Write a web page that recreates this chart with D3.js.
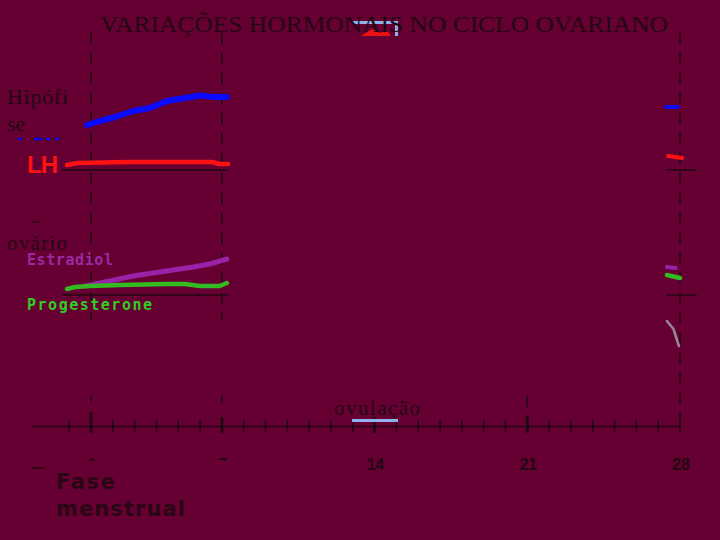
<!DOCTYPE html>
<html><head><meta charset="utf-8">
<script src="https://cdn.jsdelivr.net/npm/d3@7"></script>
<style>html,body{margin:0;padding:0;background:#660033;}</style>
</head><body>
<script>
// ---- data ----
const tickDays = d3.range(0, 29);
const majorDays = [1, 7, 14, 21];
const tickLabels = ["1", "7", "14", "21", "28"];
const labelDays = [1, 7, 14, 21, 28];

// pituitary panel (relative level 0-100)
const fshDays = [0.82, 1.41, 2.10, 2.93, 3.70, 4.48, 5.31, 6.0, 6.68, 7.23];
const fshVals = [45, 49, 53, 59, 62, 69, 72, 74.5, 73, 73];
const lhDays = [-0.1, 0.4, 2.7, 6.55, 6.9, 7.28];
const lhVals = [5, 7, 8, 8, 6, 6];
// ovary panel
const e2Days = [0.72, 1.87, 2.93, 3.84, 4.76, 5.68, 6.45, 7.23];
const e2Vals = [9, 14, 19, 22, 25, 28, 31, 36];
const progDays = [-0.1, 0.27, 0.95, 2.33, 4.48, 5.3, 6.0, 6.9, 7.23];
const progVals = [6, 8, 9, 10, 11, 11, 9, 9, 12];
// fragments at day 28
const fshEndDays = [27.36, 27.9], fshEndVals = [63, 63];
const lhEndDays = [27.45, 28.1], lhEndVals = [14, 12];
const e2EndDays = [27.4, 27.8], e2EndVals = [28, 27];
const progEndDays = [27.4, 28.0], progEndVals = [20, 17];
const greyDays = [27.4, 27.7, 27.95], greyVals = [-26, -34, -51];

const W = 720, H = 540;
const svg = d3.select("body").append("svg").attr("width", W).attr("height", H)
  .style("display", "block");
svg.append("rect").attr("width", W).attr("height", H).attr("fill", "#660033");

const x = d3.scaleLinear().domain([1, 28]).range([91, 680]);
const yPit = d3.scaleLinear().domain([0, 100]).range([170, 70]);
const yOva = d3.scaleLinear().domain([0, 100]).range([295, 195]);
const axisY = 426.5;
const ink = "#220712";

const zip = (a, b) => a.map((d, i) => [d, b[i]]);
function drawLine(days, vals, ys, color, w, dash) {
  const line = d3.line().x(d => x(d[0])).y(d => ys(d[1]));
  const p = svg.append("path").datum(zip(days, vals)).attr("d", line)
    .attr("fill", "none").attr("stroke", color).attr("stroke-width", w)
    .attr("stroke-linecap", "round").attr("stroke-linejoin", "round");
  if (dash) p.attr("stroke-dasharray", dash).attr("stroke-linecap", "butt");
}

// icon behind title
svg.append("path").attr("d", "M352,22.5 H397 M396.5,21 V36").attr("stroke", "#8fb0ec")
  .attr("stroke-width", 3).attr("fill", "none");
svg.append("path").attr("d", "M361,36 L372,29 L380,33 L387,30 L391,36 Z").attr("fill", "#ee1111");

// title
svg.append("text").attr("x", 100).attr("y", 32).attr("textLength", 568)
  .attr("lengthAdjust", "spacingAndGlyphs")
  .attr("font-family", "Liberation Serif, serif").attr("font-size", 23)
  .attr("fill", ink).text("VARIAÇÕES HORMONAIS NO CICLO OVARIANO");

// vertical dashed lines
const vDash = [[1, 32, 320], [7, 33, 320], [1, 395, 402], [7, 395, 403], [21, 395, 432], [28, 32, 432]];
vDash.forEach(([d, y1, y2]) => {
  svg.append("line").attr("x1", x(d)).attr("x2", x(d)).attr("y1", y1).attr("y2", y2)
    .attr("stroke", ink).attr("stroke-width", 1.5).attr("stroke-dasharray", "12,8");
});

// panel baselines
[[yPit(0)], [yOva(0)]].forEach(([yy]) => {
  svg.append("line").attr("x1", 62).attr("x2", 228).attr("y1", yy).attr("y2", yy)
    .attr("stroke", ink).attr("stroke-width", 1.5);
  svg.append("line").attr("x1", 666).attr("x2", 697).attr("y1", yy).attr("y2", yy)
    .attr("stroke", ink).attr("stroke-width", 1.5);
});

// axis
svg.append("line").attr("x1", 32).attr("x2", x(28)).attr("y1", axisY).attr("y2", axisY)
  .attr("stroke", ink).attr("stroke-width", 1.5);
svg.selectAll(".tick").data(tickDays).join("line")
  .attr("x1", d => x(d)).attr("x2", d => x(d))
  .attr("y1", d => d === 1 ? 412 : (majorDays.includes(d) ? 417 : 420))
  .attr("y2", d => majorDays.includes(d) ? 433 : 432)
  .attr("stroke", ink).attr("stroke-width", d => majorDays.includes(d) ? 3 : 1.5);

// tick labels (1 and 7 partly hidden as in the reference)
svg.append("defs").append("clipPath").attr("id", "clipTop")
  .append("rect").attr("x", 0).attr("y", 0).attr("width", W).attr("height", 461);
svg.selectAll(".lab").data(labelDays).join("text")
  .attr("x", d => x(d) + 1).attr("y", 470).attr("text-anchor", "middle")
  .attr("font-family", "Liberation Sans, Arial, sans-serif").attr("font-weight", "bold")
  .attr("font-size", 16).attr("fill", ink)
  .attr("clip-path", (d, i) => i < 2 ? "url(#clipTop)" : null)
  .text((d, i) => tickLabels[i]);
svg.append("line").attr("x1", 32).attr("x2", 45).attr("y1", 468).attr("y2", 468)
  .attr("stroke", ink).attr("stroke-width", 1.5);

// left labels
const serif = "Liberation Serif, serif";
svg.append("text").attr("x", 7).attr("y", 104).attr("textLength", 61).attr("font-family", serif).attr("font-size", 22).attr("fill", ink).text("Hipófi");
svg.append("text").attr("x", 7).attr("y", 131).attr("font-family", serif).attr("font-size", 22).attr("fill", ink).text("se");
svg.append("text").attr("x", 7).attr("y", 250).attr("textLength", 60).attr("font-family", serif).attr("font-size", 21).attr("fill", ink).text("ovário");
svg.append("line").attr("x1", 33).attr("x2", 40).attr("y1", 222).attr("y2", 222).attr("stroke", ink).attr("stroke-width", 1.5);

// legend-like labels
svg.append("line").attr("x1", 18).attr("x2", 63).attr("y1", 139).attr("y2", 139)
  .attr("stroke", "#0000ee").attr("stroke-width", 2.5).attr("stroke-dasharray", "4,12,8,4,4,5");
svg.append("text").attr("x", 27).attr("y", 173).attr("font-family", "Liberation Sans, Arial, sans-serif")
  .attr("font-weight", "bold").attr("font-size", 24).attr("fill", "#ff1111").attr("textLength", 31).text("LH");
svg.append("text").attr("x", 27).attr("y", 265).attr("font-family", "DejaVu Sans Mono, monospace")
  .attr("font-weight", "bold").attr("font-size", 15).attr("fill", "#9a2aa0").attr("textLength", 86).text("Estradiol");
svg.append("text").attr("x", 27).attr("y", 310).attr("font-family", "DejaVu Sans Mono, monospace")
  .attr("font-weight", "bold").attr("font-size", 15).attr("fill", "#33cc22").attr("textLength", 125).text("Progesterone");

// ovulation
svg.append("text").attr("x", 334).attr("y", 415).attr("textLength", 86).attr("font-family", serif)
  .attr("font-size", 21).attr("fill", ink).text("ovulação");
svg.append("line").attr("x1", 352).attr("x2", 398).attr("y1", 420.5).attr("y2", 420.5)
  .attr("stroke", "#8fb0ec").attr("stroke-width", 3);

// Fase menstrual
svg.append("text").attr("x", 56).attr("y", 489).attr("font-family", "DejaVu Sans, Verdana, sans-serif")
  .attr("font-weight", "bold").attr("font-size", 21).attr("fill", "#2a0515").attr("textLength", 59).text("Fase");
svg.append("text").attr("x", 56).attr("y", 516).attr("font-family", "DejaVu Sans, Verdana, sans-serif")
  .attr("font-weight", "bold").attr("font-size", 21).attr("fill", "#2a0515").attr("textLength", 129).text("menstrual");

// hormone curves
drawLine(fshDays, fshVals, yPit, "#0a0aff", 6);
drawLine(lhDays, lhVals, yPit, "#ff1111", 4.5);
drawLine(e2Days, e2Vals, yOva, "#9922a8", 5);
drawLine(progDays, progVals, yOva, "#33bb22", 4.5);
drawLine(fshEndDays, fshEndVals, yPit, "#0a0aff", 4);
drawLine(lhEndDays, lhEndVals, yPit, "#ff1111", 4);
drawLine(e2EndDays, e2EndVals, yOva, "#9922a8", 4);
drawLine(progEndDays, progEndVals, yOva, "#33bb22", 4.5);
drawLine(greyDays, greyVals, yOva, "#998899", 2.5);
</script>
</body></html>
